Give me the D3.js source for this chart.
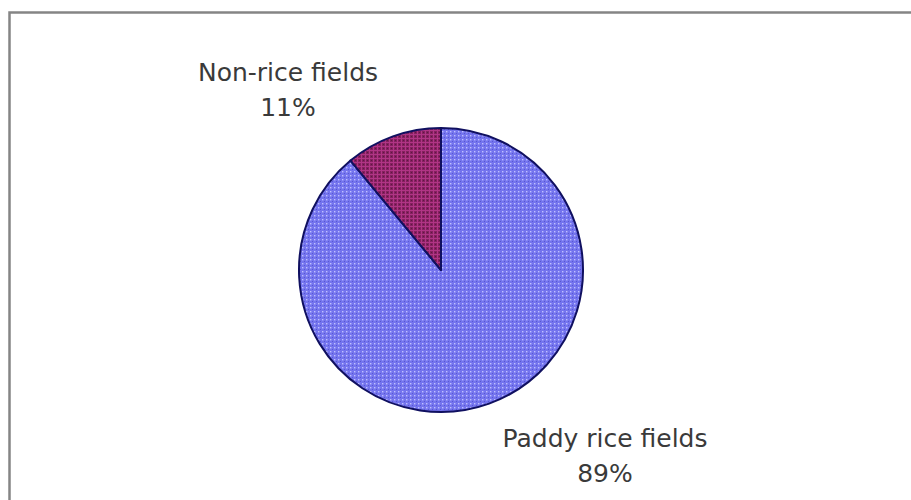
<!DOCTYPE html>
<html>
<head>
    <meta charset="UTF-8">
    <title>Rice fields pie</title>
    <script src="https://d3js.org/d3.v7.min.js"></script>
    <style type="text/css">
      body{
        margin: 0;
        background-color: white;
      }
      svg{
        display: block;
      }
    </style>
</head>
<body>
    <svg id="chart"></svg>

    <script>
        const categories = ["Paddy rice fields", "Non-rice fields"];
        const shares = [89, 11];
        const pctLabels = ["89%", "11%"];

        const width = 911;
        const height = 500;
        const cx = 441, cy = 270, radius = 142;

        const svg = d3.select("#chart")
          .attr("width", width)
          .attr("height", height);

        // outer frame, cut off at right and bottom
        svg.append("path")
          .attr("d", `M9.5,${height + 5}V12.5H${width + 5}`)
          .attr("fill", "none")
          .attr("stroke", "#858585")
          .attr("stroke-width", 2.5);

        const defs = svg.append("defs");

        // dotted blue fill
        const pBlue = defs.append("pattern")
          .attr("id", "pat-blue")
          .attr("patternUnits", "userSpaceOnUse")
          .attr("width", 4).attr("height", 4);
        pBlue.append("rect").attr("width", 4).attr("height", 4).attr("fill", "#7474ee");
        pBlue.append("rect").attr("x", 1).attr("y", 1).attr("width", 1.4).attr("height", 1.4).attr("fill", "#c0c0ff");
        pBlue.append("rect").attr("x", 3).attr("y", 3).attr("width", 1).attr("height", 1).attr("fill", "#5858d0");

        // grid maroon fill
        const pRed = defs.append("pattern")
          .attr("id", "pat-red")
          .attr("patternUnits", "userSpaceOnUse")
          .attr("width", 4).attr("height", 4);
        pRed.append("rect").attr("width", 4).attr("height", 4).attr("fill", "#85205f");
        pRed.append("rect").attr("x", 0).attr("y", 0).attr("width", 4).attr("height", 1).attr("fill", "#b03585");
        pRed.append("rect").attr("x", 0).attr("y", 0).attr("width", 1).attr("height", 4).attr("fill", "#b03585");
        pRed.append("rect").attr("x", 2).attr("y", 2).attr("width", 1).attr("height", 1).attr("fill", "#5e1842");

        const fills = d3.scaleOrdinal()
          .domain(categories)
          .range(["url(#pat-blue)", "url(#pat-red)"]);

        const data = categories.map((c, i) => ({name: c, value: shares[i], pct: pctLabels[i]}));

        const pie = d3.pie()
          .sort(null)
          .value(d => d.value)
          .startAngle(0)
          .endAngle(2 * Math.PI);

        const arc = d3.arc()
          .innerRadius(0)
          .outerRadius(radius);

        const g = svg.append("g")
          .attr("transform", `translate(${cx},${cy})`);

        g.selectAll("path.slice")
          .data(pie(data))
          .enter()
          .append("path")
          .attr("class", "slice")
          .attr("d", arc)
          .attr("fill", d => fills(d.data.name))
          .attr("stroke", "#101060")
          .attr("stroke-width", 2)
          .attr("stroke-linejoin", "round");

        // label placement, relative to the pie centre
        const labelPos = {
          "Paddy rice fields": [164, 177],
          "Non-rice fields": [-153, -189]
        };

        const labels = g.selectAll("text.lbl")
          .data(data)
          .enter()
          .append("text")
          .attr("class", "lbl")
          .attr("text-anchor", "middle")
          .attr("font-family", "DejaVu Sans, Arial, sans-serif")
          .attr("font-size", 25)
          .attr("fill", "#3a3a3a");

        labels.append("tspan")
          .attr("x", d => labelPos[d.name][0])
          .attr("y", d => labelPos[d.name][1])
          .text(d => d.name);

        labels.append("tspan")
          .attr("x", d => labelPos[d.name][0])
          .attr("dy", 35)
          .text(d => d.pct);
    </script>
</body>
</html>
